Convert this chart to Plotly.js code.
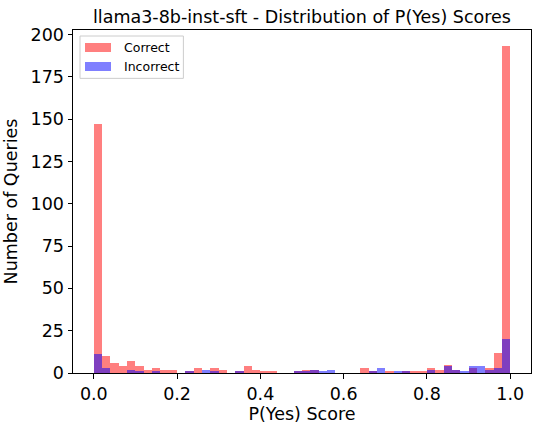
<!DOCTYPE html>
<html>
<head>
<meta charset="utf-8">
<script src="https://cdn.plot.ly/plotly-3.0.1.min.js"></script>
<style>html,body{margin:0;padding:0;background:#fff;}#chart{width:533px;height:427px;}</style>
</head>
<body>
<div id="chart"></div>
<script>
// Histogram: 50 bins of width 0.02 over [0, 1]
const binStart = 0.0;
const binWidth = 0.02;
const correctCounts = [147,10,6,4,7,4,2,3,2,2, 0,1,3,0,3,2,0,1,4,2, 1,1,0,0,1,2,2,0,0,0, 0,0,3,1,0,1,0,1,1,1, 3,2,5,2,0,3,0,3,12,193];
const incorrectCounts = [11,3,0,0,2,1,0,1,0,0, 0,1,0,2,1,0,0,1,0,0, 0,0,0,0,1,1,2,1,2,0, 0,0,0,1,3,0,1,1,0,0, 2,0,4,2,1,4,4,2,3,20];
const seriesNames = ["Correct", "Incorrect"];
const xTickVals = [0, 0.2, 0.4, 0.6, 0.8, 1.0];
const xTickText = ["0.0", "0.2", "0.4", "0.6", "0.8", "1.0"];
const yTickVals = [0, 25, 50, 75, 100, 125, 150, 175, 200];

const centers = correctCounts.map((_, i) => binStart + binWidth * (i + 0.5));
const yMax = Math.max(...correctCounts, ...incorrectCounts) * 1.05;

const FONT = "DejaVu Sans, sans-serif";
const colors = ["rgba(255,0,0,0.5)", "rgba(0,0,255,0.5)"];

const traces = [correctCounts, incorrectCounts].map((counts, k) => ({
  type: "bar",
  x: centers,
  y: counts,
  width: binWidth,
  name: seriesNames[k],
  marker: {color: colors[k], line: {width: 0}},
  showlegend: false,
  hoverinfo: "x+y+name"
}));

// Legend drawn manually (matplotlib-style wide patches)
const L = {x0: 0.0153, x1: 0.241, y0: 0.859, y1: 0.9825};
const patchX = [0.0262, 0.0830];
const rowsY = [[0.9359, 0.9621], [0.8805, 0.9067]];
const shapes = [{
  type: "rect", xref: "paper", yref: "paper",
  x0: L.x0, x1: L.x1, y0: L.y0, y1: L.y1,
  line: {color: "rgba(204,204,204,1)", width: 1},
  fillcolor: "rgba(255,255,255,0.8)", layer: "above"
}];
const annotations = [];
seriesNames.forEach((nm, k) => {
  shapes.push({
    type: "rect", xref: "paper", yref: "paper",
    x0: patchX[0], x1: patchX[1], y0: rowsY[k][0], y1: rowsY[k][1],
    line: {width: 0}, fillcolor: colors[k], layer: "above"
  });
  annotations.push({
    xref: "paper", yref: "paper", x: 0.1063, y: (rowsY[k][0] + rowsY[k][1]) / 2,
    xanchor: "left", yanchor: "middle", showarrow: false,
    text: nm, font: {family: FONT, size: 12.5, color: "#000"}
  });
});

const layout = {
  width: 533, height: 427,
  margin: {l: 73, r: 2, t: 30, b: 54, pad: 0},
  paper_bgcolor: "#fff", plot_bgcolor: "#fff",
  barmode: "overlay", bargap: 0,
  font: {family: FONT, size: 17.5, color: "#000"},
  title: {
    text: "llama3-8b-inst-sft - Distribution of P(Yes) Scores",
    font: {family: FONT, size: 17.5, color: "#000"},
    xref: "paper", x: 0.5, xanchor: "center",
    yref: "container", y: 0.96, yanchor: "middle"
  },
  xaxis: {
    range: [-0.05, 1.05],
    tickvals: xTickVals, ticktext: xTickText,
    ticks: "outside", ticklen: 4.5, tickwidth: 1, tickcolor: "#000",
    showline: true, linecolor: "#000", linewidth: 1, mirror: true,
    showgrid: false, zeroline: false,
    tickfont: {family: FONT, size: 17.5, color: "#000"},
    title: {text: "P(Yes) Score", font: {family: FONT, size: 17.5, color: "#000"}, standoff: 4}
  },
  yaxis: {
    range: [0, yMax],
    tickvals: yTickVals,
    ticks: "outside", ticklen: 4.5, tickwidth: 1, tickcolor: "#000",
    showline: true, linecolor: "#000", linewidth: 1, mirror: true,
    showgrid: false, zeroline: false,
    tickfont: {family: FONT, size: 17.5, color: "#000"},
    title: {text: "Number of Queries", font: {family: FONT, size: 17.5, color: "#000"}, standoff: 8}
  },
  shapes: shapes,
  annotations: annotations
};

Plotly.newPlot("chart", traces, layout, {displayModeBar: false, staticPlot: true});
</script>
</body>
</html>
